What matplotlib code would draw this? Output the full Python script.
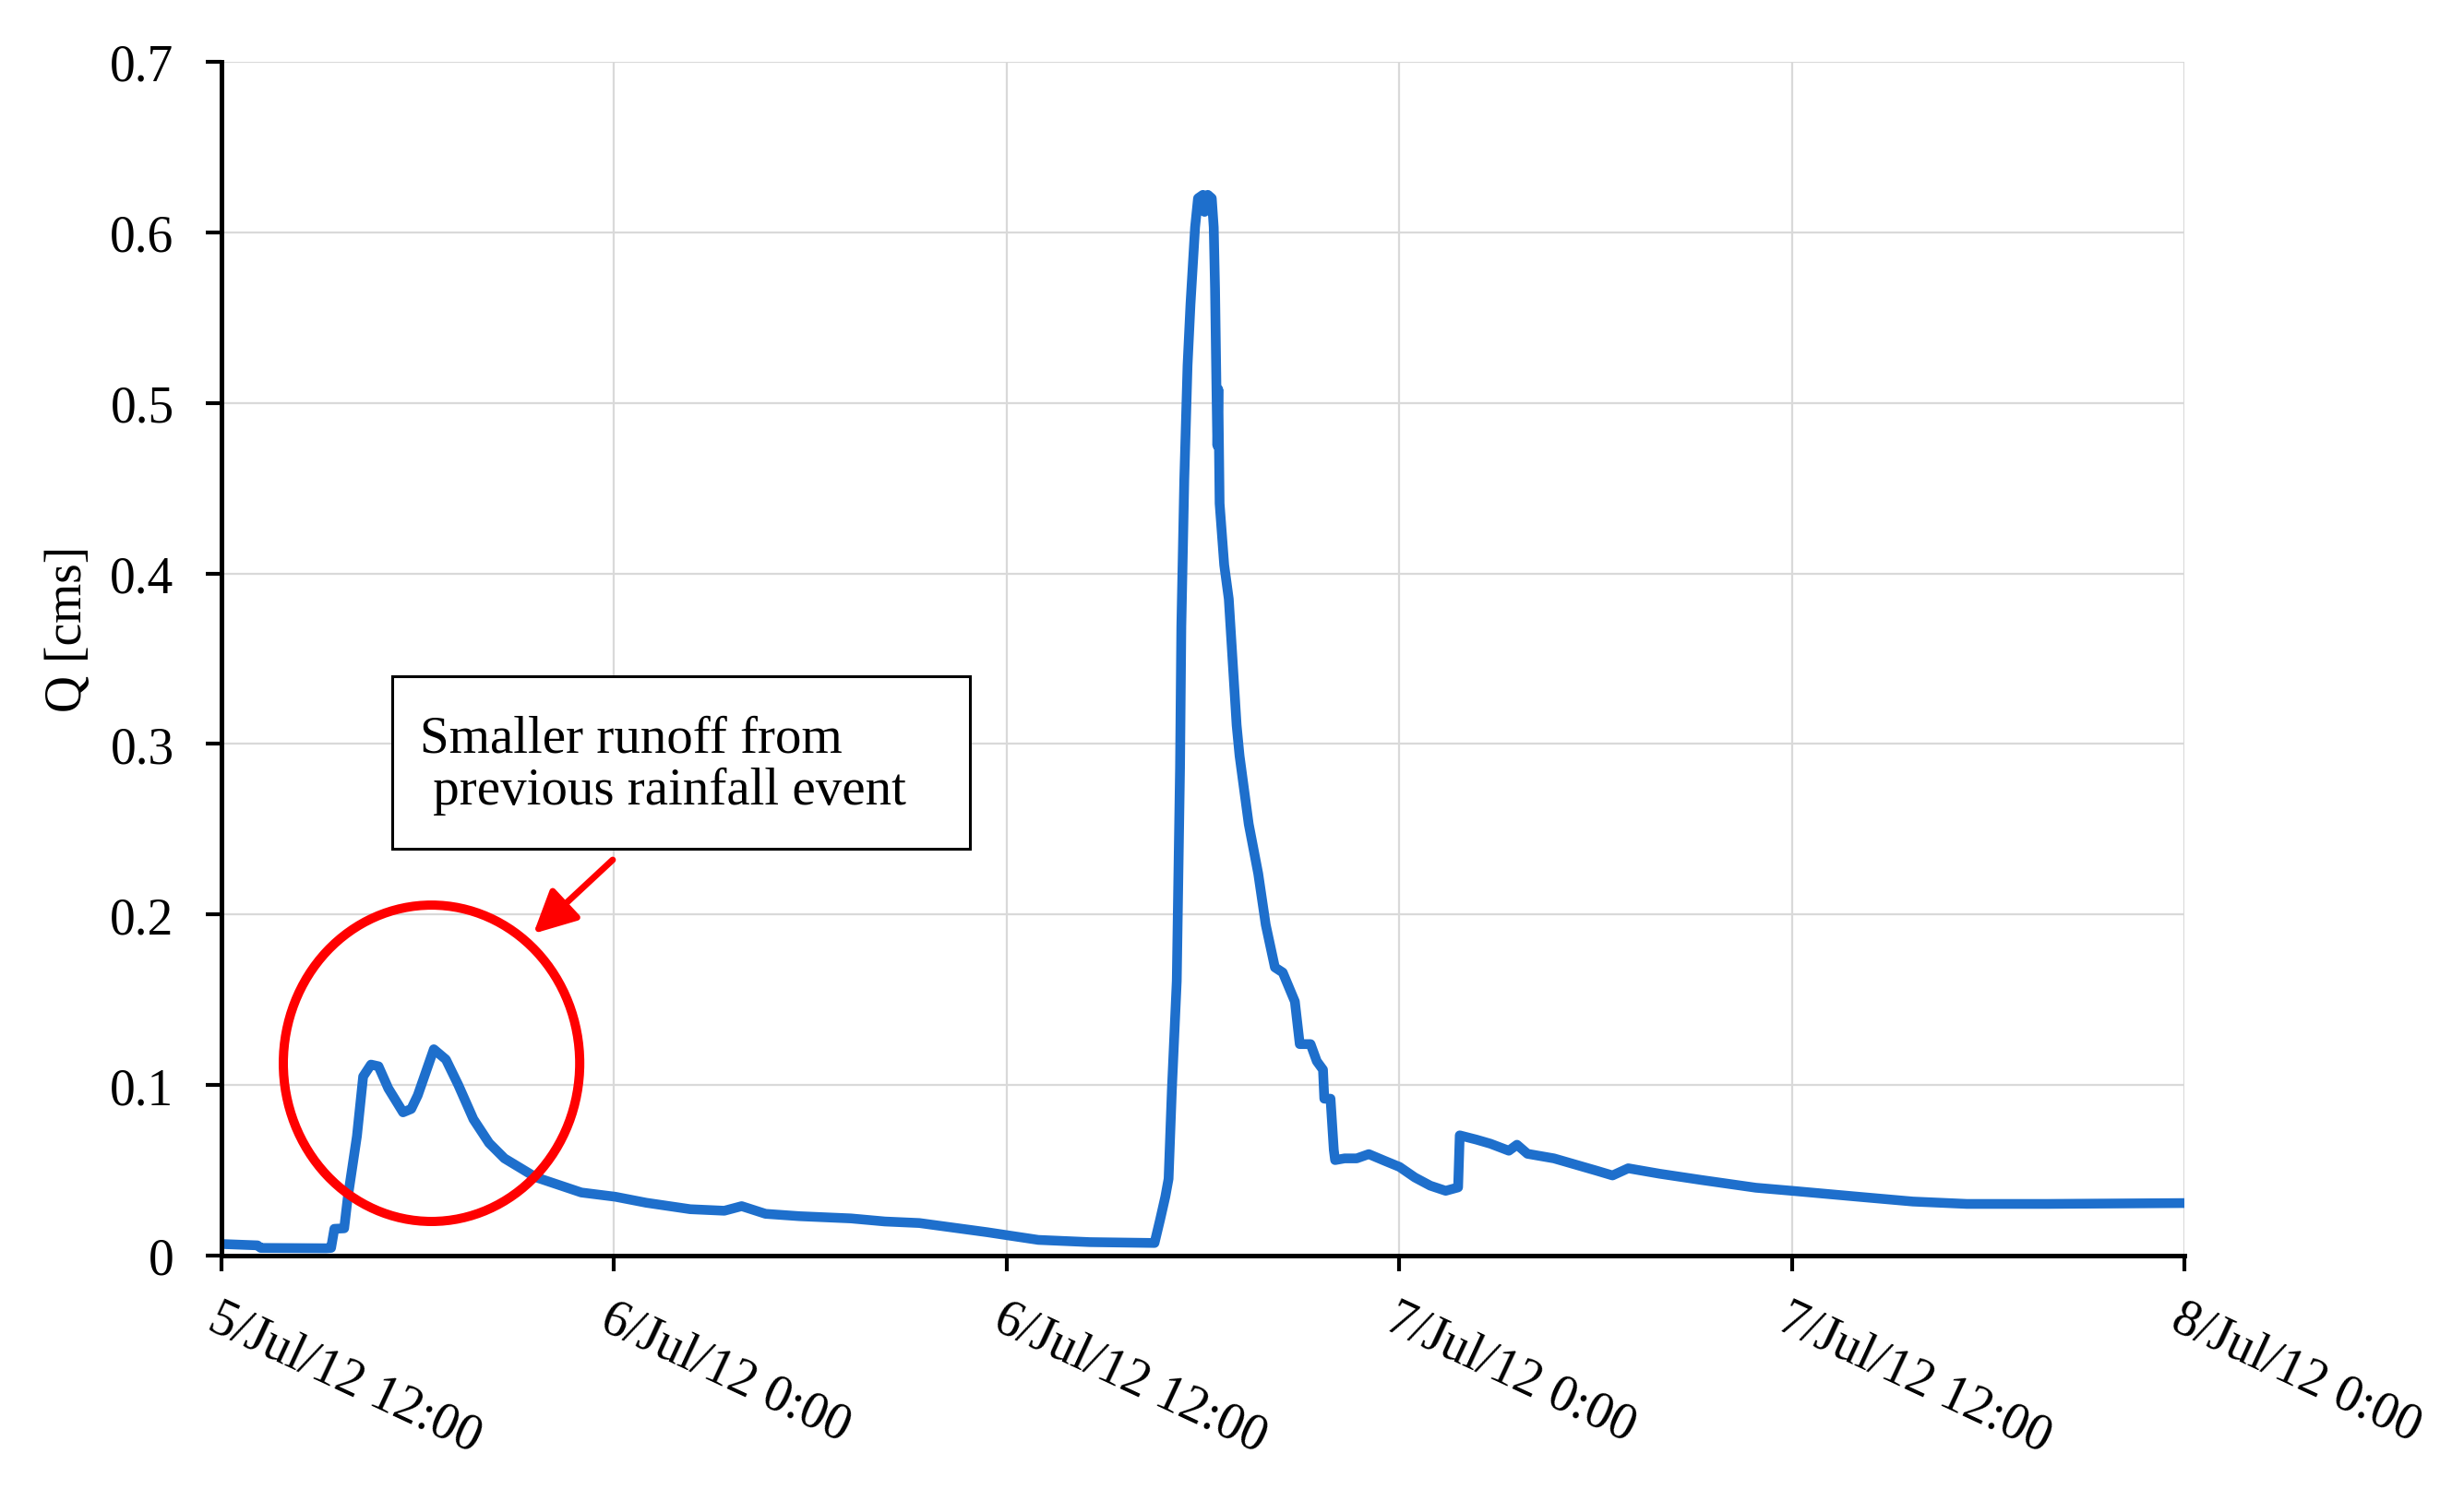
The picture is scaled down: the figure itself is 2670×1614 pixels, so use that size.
import matplotlib
matplotlib.use("Agg")
import matplotlib.pyplot as plt
import matplotlib.transforms as mtransforms
from matplotlib.patches import Ellipse, Rectangle
import pandas as pd

# ---- data (hours after 5/Jul/12 12:00, discharge in cms) ----
hours = [0.0, 1.1, 1.2, 3.2, 3.35, 3.45, 3.75, 3.86, 4.14, 4.33, 4.57, 4.8, 5.1, 5.55, 5.8,
         6.0, 6.49, 6.86, 7.24, 7.7, 8.18, 8.65, 9.6, 11.0, 12.04, 12.98, 14.33, 15.37,
         15.9, 16.63, 17.67, 19.24, 20.28, 21.33, 22.37, 23.41, 24.03, 24.97, 26.54,
         28.52, 28.69, 28.85, 28.95, 29.05, 29.2, 29.3, 29.34, 29.43, 29.53, 29.62,
         29.76, 29.85, 30.0, 30.05, 30.15, 30.27, 30.33, 30.37, 30.41, 30.44, 30.47,
         30.51, 30.65, 30.79, 31.03, 31.12, 31.4, 31.69, 31.92, 32.2, 32.44, 32.81,
         32.96, 33.29, 33.48, 33.67, 33.71, 33.9, 34.0, 34.04, 34.33, 34.7, 35.07,
         35.54, 36.01, 36.48, 36.95, 37.42, 37.8, 37.85, 38.36, 38.79, 39.35, 39.6,
         39.92, 40.73, 42.03, 42.52, 43.0, 43.96, 45.25, 46.9, 48.0, 50.1, 51.7,
         53.35, 55.8, 60.0]
discharge = [0.0068, 0.006, 0.0045, 0.0043, 0.0045, 0.0157, 0.016, 0.034, 0.070, 0.105,
             0.112, 0.111, 0.098, 0.084, 0.086, 0.094, 0.121, 0.115, 0.100, 0.080, 0.066,
             0.057, 0.046, 0.037, 0.0345, 0.031, 0.0272, 0.0263, 0.029, 0.0245, 0.0231,
             0.0218, 0.020, 0.0191, 0.0164, 0.0137, 0.0119, 0.0092, 0.0079, 0.0074,
             0.021, 0.0345, 0.045, 0.097, 0.161, 0.286, 0.369, 0.455, 0.522, 0.558,
             0.603, 0.620, 0.622, 0.612, 0.622, 0.620, 0.603, 0.567, 0.513, 0.475,
             0.508, 0.441, 0.405, 0.385, 0.311, 0.293, 0.253, 0.224, 0.194, 0.169,
             0.166, 0.149, 0.124, 0.124, 0.114, 0.109, 0.092, 0.092, 0.062, 0.056,
             0.057, 0.057, 0.0595, 0.0557, 0.052, 0.0458, 0.041, 0.038, 0.040, 0.0705,
             0.068, 0.0656, 0.0615, 0.065, 0.0597, 0.057, 0.0498, 0.047, 0.0512, 0.048,
             0.0443, 0.0398, 0.038, 0.0344, 0.0317, 0.0303, 0.0303, 0.0308]

start = pd.Timestamp("2012-07-05 12:00")
tick_hours = [0, 12, 24, 36, 48, 60]
x_tick_labels = ["5/Jul/12 12:00", "6/Jul/12 0:00", "6/Jul/12 12:00",
                 "7/Jul/12 0:00", "7/Jul/12 12:00", "8/Jul/12 0:00"]
y_ticks = [0, 0.1, 0.2, 0.3, 0.4, 0.5, 0.6, 0.7]
y_tick_labels = ["0", "0.1", "0.2", "0.3", "0.4", "0.5", "0.6", "0.7"]
y_label = "Q [cms]"
note_text = "Smaller runoff from\n previous rainfall event"

times = start + pd.to_timedelta(hours, unit="h")
tick_times = start + pd.to_timedelta(tick_hours, unit="h")

plt.rcParams["font.family"] = ["Liberation Serif", "DejaVu Serif"]

fig = plt.figure(figsize=(26.7, 16.15), dpi=100)
ax = fig.add_axes([240 / 2670, 1 - 1362 / 1615, 2127 / 2670, 1294 / 1615])

ax.plot(times, discharge, color="#1E6FCC", lw=7.6, solid_joinstyle="round",
        solid_capstyle="butt", zorder=3)

ax.set_xlim(tick_times[0], tick_times[-1])
ax.set_ylim(0, 0.7)
ax.set_xticks(tick_times)
ax.set_xticklabels(x_tick_labels, rotation=-25, ha="left", va="top",
                   rotation_mode="anchor", fontsize=40)
shift = mtransforms.ScaledTranslation(5 / 72, 0, fig.dpi_scale_trans)
for lab in ax.get_xticklabels():
    lab.set_transform(lab.get_transform() + shift)
ax.set_yticks(y_ticks)
ax.set_yticklabels(y_tick_labels, fontsize=40)

ax.grid(True, color="#D9D9D9", lw=1.6, zorder=0)
ax.set_axisbelow(True)
for s in ["top", "right"]:
    ax.spines[s].set_visible(False)
for s in ["left", "bottom"]:
    ax.spines[s].set_linewidth(3.6)
    ax.spines[s].set_color("black")
    ax.spines[s].set_zorder(4)
ax.tick_params(axis="both", direction="out", length=12, width=3.0, color="black")
ax.tick_params(axis="y", pad=25)
ax.tick_params(axis="x", pad=18)

ax.set_ylabel(y_label, fontsize=40)
ax.yaxis.set_label_coords(-0.066, 0.5255)

# annotation: circle, box, text, arrow (axes fraction coordinates)
circ = Ellipse((0.107, 0.1611), 0.151, 0.265, transform=ax.transAxes,
               fill=False, edgecolor="#FF0000", lw=7.2, zorder=5, clip_on=False)
ax.add_patch(circ)
box = Rectangle((0.087, 0.3408), 0.3813 - 0.087, 0.4853 - 0.3408,
                transform=ax.transAxes, facecolor="white", edgecolor="black",
                lw=2.2, zorder=5)
ax.add_patch(box)
ax.text(0.1011, 0.4111, note_text, transform=ax.transAxes, fontsize=41,
        ha="left", va="center", multialignment="left", linespacing=1.1, zorder=6)
ax.annotate("", xy=(0.1589, 0.2697), xytext=(0.1993, 0.3315),
            xycoords="axes fraction", textcoords="axes fraction",
            arrowprops=dict(arrowstyle="-|>", color="#FF0000", lw=5,
                            mutation_scale=70, shrinkA=0, shrinkB=0), zorder=6)

fig.savefig("out.png", dpi=100)
